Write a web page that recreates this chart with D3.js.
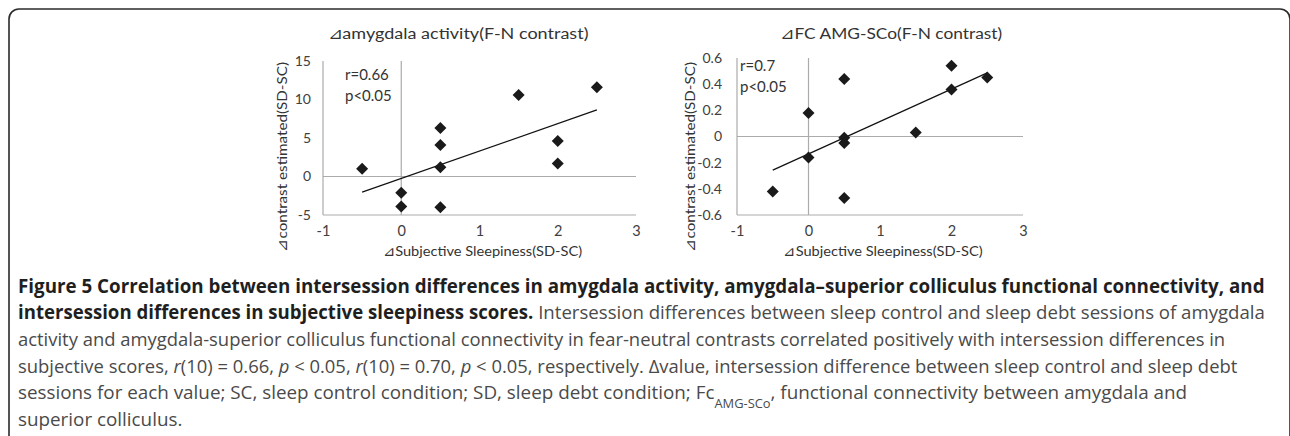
<!DOCTYPE html>
<html>
<head>
<meta charset="UTF-8">
<title>Figure 5</title>
<script src="https://cdn.jsdelivr.net/npm/d3@7"></script>
<style>
* { margin: 0; padding: 0; }
body { background: #fff; }
#fig { display: block; }
</style>
</head>
<body>
<svg id="fig" width="1290" height="436"></svg>
<script>
// data
const sleepiness = [-0.5, 0, 0, 0.5, 0.5, 0.5, 0.5, 1.5, 2, 2, 2.5];
const amygdalaActivity = [1.0, -2.1, -3.9, 6.3, 4.1, 1.2, -4.0, 10.6, 4.6, 1.7, 11.6];
const fcAmgSco = [-0.42, 0.18, -0.16, 0.44, -0.01, -0.05, -0.47, 0.03, 0.54, 0.36, 0.45];

const xTicks = [-1, 0, 1, 2, 3];
const yTicksA = [-5, 0, 5, 10, 15];
const yTicksB = [-0.6, -0.4, -0.2, 0, 0.2, 0.4, 0.6];

const panelTitles = ["⊿amygdala activity(F-N contrast)", "⊿FC AMG-SCo(F-N contrast)"];
const statLabels = [["r=0.66", "p<0.05"], ["r=0.7", "p<0.05"]];
const xAxisTitle = "⊿Subjective Sleepiness(SD-SC)";
const yAxisTitle = "⊿contrast estimated(SD-SC)";

// caption: each line is a list of [text, style]  (b bold, n normal, i italic, s subscript)
const captionLines = [
  [["Figure 5 Correlation between intersession differences in amygdala activity, amygdala–superior colliculus functional connectivity, and", "b"]],
  [["intersession differences in subjective sleepiness scores.", "b"], [" Intersession differences between sleep control and sleep debt sessions of amygdala", "n"]],
  [["activity and amygdala-superior colliculus functional connectivity in fear-neutral contrasts correlated positively with intersession differences in", "n"]],
  [["subjective scores, ", "n"], ["r", "i"], ["(10) = 0.66, ", "n"], ["p", "i"], [" < 0.05, ", "n"], ["r", "i"], ["(10) = 0.70, ", "n"], ["p", "i"], [" < 0.05, respectively. Δvalue, intersession difference between sleep control and sleep debt", "n"]],
  [["sessions for each value; SC, sleep control condition; SD, sleep debt condition; Fc", "n"], ["AMG-SCo", "s"], [", functional connectivity between amygdala and", "n"]],
  [["superior colliculus.", "n"]]
];
const captionEnds = [1266, 1266, 1226, 1238, 1188, null];

const svg = d3.select("#fig");
const chartFont = "Lato, 'Open Sans', sans-serif";
const capFont = "'Open Sans', 'Noto Sans', sans-serif";

// frame of the figure box
svg.append("rect")
  .attr("x", 9).attr("y", 9)
  .attr("width", 1281).attr("height", 460)
  .attr("rx", 10)
  .attr("fill", "none")
  .attr("stroke", "#2b2b2b")
  .attr("stroke-width", 1.6);

// squeeze a text element to a target width
function fitWidth(t, x, y, width, rot) {
  const w = t.node().getBBox().width;
  const k = width / w;
  t.attr("transform", `translate(${x},${y})${rot ? " rotate(-90)" : ""} scale(${k},1)`);
  return k;
}

const panels = [
  { ys: amygdalaActivity, yTicks: yTicksA, xr: [323, 636], yr: [215, 61],
    title: { cx: 458, w: 261 }, yTitleX: 287, stat: { x: 345, y: 80 }, tickRight: 311 },
  { ys: fcAmgSco, yTicks: yTicksB, xr: [737, 1023], yr: [215, 58],
    title: { cx: 891, w: 222 }, yTitleX: 695, stat: { x: 740, y: 71 }, tickRight: 722 }
];

panels.forEach((p, pi) => {
  const x = d3.scaleLinear().domain([-1, 3]).range(p.xr);
  const yd = d3.extent(p.yTicks);
  const y = d3.scaleLinear().domain(yd).range(p.yr);
  const g = svg.append("g");

  // reference lines: plot edges and zero lines
  const grid = "#ababab";
  [-1, 0].forEach(v => g.append("line")
    .attr("x1", x(v)).attr("x2", x(v))
    .attr("y1", y(yd[1])).attr("y2", y(yd[0]))
    .attr("stroke", grid).attr("stroke-width", 1.2));
  [yd[0], 0].forEach(v => g.append("line")
    .attr("x1", x(-1)).attr("x2", x(3))
    .attr("y1", y(v)).attr("y2", y(v))
    .attr("stroke", grid).attr("stroke-width", 1.2));

  // axes (labels only)
  const yAxis = g.append("g")
    .attr("transform", `translate(${p.tickRight},0)`)
    .call(d3.axisLeft(y).tickValues(p.yTicks).tickSize(0).tickPadding(0).tickFormat(d => String(d)));
  yAxis.select(".domain").remove();
  yAxis.selectAll("text").attr("font-family", chartFont).attr("font-size", 14).attr("fill", "#404040");

  const xAxis = g.append("g")
    .attr("transform", `translate(0,${226})`)
    .call(d3.axisBottom(x).tickValues(xTicks).tickSize(0).tickPadding(0).tickFormat(d => String(d)));
  xAxis.select(".domain").remove();
  xAxis.selectAll("text").attr("font-family", chartFont).attr("font-size", 14.5).attr("fill", "#404040");

  // trend line from least squares
  const mx = d3.mean(sleepiness), my = d3.mean(p.ys);
  let sxy = 0, sxx = 0;
  sleepiness.forEach((v, i) => { sxy += (v - mx) * (p.ys[i] - my); sxx += (v - mx) * (v - mx); });
  const slope = sxy / sxx, icpt = my - slope * mx;
  const [x0, x1] = d3.extent(sleepiness);
  g.append("line")
    .attr("x1", x(x0)).attr("y1", y(icpt + slope * x0))
    .attr("x2", x(x1)).attr("y2", y(icpt + slope * x1))
    .attr("stroke", "#111").attr("stroke-width", 1.2);

  // diamond markers
  const diamond = d3.symbol().type(d3.symbolSquare).size(72);
  g.selectAll("path.pt")
    .data(p.ys.map((v, i) => [sleepiness[i], v]))
    .enter().append("path")
    .attr("class", "pt")
    .attr("d", diamond)
    .attr("transform", d => `translate(${x(d[0])},${y(d[1])}) rotate(45)`)
    .attr("fill", "#1a1a1a");

  // stats text
  statLabels[pi].forEach((s, i) => g.append("text")
    .attr("x", p.stat.x).attr("y", p.stat.y + i * 21)
    .attr("font-family", chartFont).attr("font-size", 15).attr("fill", "#333")
    .text(s));

  // titles
  const t = g.append("text").attr("text-anchor", "middle")
    .attr("font-family", chartFont).attr("font-size", 16).attr("fill", "#333")
    .text(panelTitles[pi]);
  fitWidth(t, p.title.cx, 39, p.title.w);

  const xt = g.append("text").attr("text-anchor", "middle")
    .attr("font-family", chartFont).attr("font-size", 14).attr("fill", "#333")
    .text(xAxisTitle);
  fitWidth(xt, (p.xr[0] + p.xr[1]) / 2 + 3, 256, 200);

  const yt = g.append("text").attr("text-anchor", "middle")
    .attr("font-family", chartFont).attr("font-size", 14).attr("fill", "#333")
    .text(yAxisTitle);
  fitWidth(yt, p.yTitleX, 157, 190, true);
});

// caption
const capX = 18;
let lastK = 1;
captionLines.forEach((segs, li) => {
  const t = svg.append("text")
    .attr("font-family", capFont).attr("font-size", 19)
    .attr("text-anchor", "start");
  segs.forEach(([s, st]) => {
    const ts = t.append("tspan").text(s)
      .attr("fill", st === "b" ? "#1f1f1f" : "#4a4a4a")
      .attr("font-weight", st === "b" ? 700 : 400);
    if (st === "i") ts.attr("font-style", "italic");
    if (st === "s") ts.attr("font-size", 13).attr("baseline-shift", "sub");
  });
  const baseY = 292.5 + li * 26.7;
  if (captionEnds[li] !== null) {
    const k = fitWidth(t, capX, baseY, captionEnds[li] - capX);
    if (li > 1) lastK = k;
  } else {
    t.attr("transform", `translate(${capX},${baseY}) scale(${lastK},1)`);
  }
});
</script>
</body>
</html>
